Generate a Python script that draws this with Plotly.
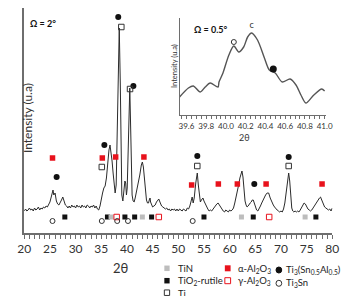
import plotly.graph_objects as go

W, H = 347, 296

# ---------------- main pattern (Omega = 2 deg) ----------------
two_theta = [20.0, 20.25, 20.5, 20.75, 21.0, 21.25, 21.5, 21.75, 22.0, 22.25, 22.5, 22.75,
             23.0, 23.25, 23.5, 23.75, 24.0, 24.25, 24.5, 24.75, 25.0, 25.25, 25.5, 25.6,
             25.75, 26.0, 26.25, 26.5, 26.75, 27.0, 27.25, 27.5, 27.75, 28.0, 28.25, 28.5,
             28.75, 29.0, 29.25, 29.5, 29.75, 30.0, 30.25, 30.5, 30.75, 31.0, 31.25, 31.5,
             31.75, 32.0, 32.25, 32.5, 32.75, 33.0, 33.25, 33.5, 33.75, 34.0, 34.25, 34.5,
             34.75, 35.0, 35.25, 35.5, 35.75, 36.0, 36.25, 36.5, 36.7, 36.9, 37.1, 37.3,
             37.5, 37.7, 37.9, 38.1, 38.3, 38.5, 38.7, 38.85, 39.0, 39.2, 39.4, 39.6,
             39.75, 39.9, 40.05, 40.25, 40.45, 40.55, 40.7, 40.85, 41.0, 41.2, 41.4, 41.6,
             41.8, 42.0, 42.2, 42.5, 42.8, 43.0, 43.2, 43.4, 43.6, 43.8, 44.0, 44.2,
             44.4, 44.5, 44.6, 44.8, 45.0, 45.25, 45.5, 45.75, 46.0, 46.2, 46.5, 46.75,
             47.0, 47.25, 47.5, 47.75, 48.0, 48.25, 48.5, 48.75, 49.0, 49.25, 49.5, 49.75,
             50.0, 50.25, 50.5, 50.75, 51.0, 51.25, 51.5, 51.75, 52.0, 52.25, 52.5, 52.7,
             52.9, 53.1, 53.4, 53.7, 53.9, 54.1, 54.3, 54.5, 54.8, 55.0, 55.25, 55.5,
             55.75, 56.0, 56.25, 56.5, 56.75, 57.0, 57.25, 57.5, 57.75, 58.0, 58.25, 58.5,
             58.75, 59.0, 59.25, 59.5, 59.75, 60.0, 60.25, 60.5, 60.75, 61.0, 61.25, 61.5,
             61.75, 62.0, 62.25, 62.4, 62.6, 62.8, 63.0, 63.2, 63.4, 63.6, 63.8, 64.0,
             64.2, 64.4, 64.6, 64.8, 65.0, 65.25, 65.5, 65.75, 66.0, 66.25, 66.5, 66.75,
             67.0, 67.3, 67.6, 67.9, 68.2, 68.5, 68.75, 69.0, 69.25, 69.5, 69.75, 70.0,
             70.25, 70.5, 70.75, 71.0, 71.25, 71.5, 71.7, 71.9, 72.1, 72.3, 72.5, 72.75,
             73.0, 73.25, 73.5, 73.75, 74.0, 74.25, 74.5, 74.75, 75.0, 75.25, 75.5, 75.75,
             76.0, 76.25, 76.5, 76.75, 77.0, 77.25, 77.5, 77.7, 77.9, 78.1, 78.3, 78.5,
             78.75, 79.0, 79.25, 79.5, 79.75, 80.0]
intensity = [22, 24, 22, 23, 25, 23, 24, 22, 25, 23, 24, 26,
             23, 25, 24, 26, 25, 27, 26, 29, 31, 36, 42, 43,
             38, 40, 32, 29, 28, 30, 33, 36, 31, 28, 27, 25,
             27, 25, 28, 26, 27, 25, 28, 26, 27, 25, 28, 26,
             27, 25, 28, 27, 25, 27, 26, 28, 25, 27, 24, 23,
             27, 36, 40, 45, 47, 55, 70, 83, 88, 82, 72, 60,
             48, 40, 48, 100, 180, 205, 150, 60, 38, 32, 40, 52,
             50, 38, 45, 95, 140, 145, 110, 60, 38, 32, 31, 35,
             40, 45, 48, 58, 68, 71, 66, 52, 40, 33, 30, 30,
             34, 35, 31, 27, 26, 27, 28, 31, 33, 34, 30, 27,
             26, 25, 24, 25, 23, 24, 22, 24, 23, 24, 22, 24,
             22, 24, 23, 22, 24, 23, 22, 25, 24, 27, 32, 36,
             30, 35, 50, 60, 48, 35, 31, 33, 35, 32, 29, 26,
             24, 22, 23, 22, 24, 25, 27, 29, 30, 28, 25, 23,
             22, 21, 23, 22, 21, 23, 22, 23, 25, 30, 35, 42,
             48, 55, 60, 62, 56, 42, 32, 28, 26, 27, 29, 30,
             31, 33, 33, 29, 25, 23, 22, 24, 27, 30, 33, 36,
             38, 40, 40, 35, 31, 28, 26, 24, 23, 22, 21, 22,
             21, 24, 30, 40, 52, 60, 52, 35, 25, 22, 21, 22,
             21, 22, 21, 23, 25, 28, 30, 29, 26, 24, 23, 22,
             23, 25, 28, 30, 31, 33, 35, 36, 33, 30, 28, 26,
             25, 24, 23, 24, 22, 25]

# phase markers (2theta, height)
ti3snal_x = [26.3, 35.6, 38.3, 41.25, 53.7, 64.8, 71.5]
ti3snal_y = [56, 88, 216, 147, 77, 49, 76]
ti_x = [35.1, 38.9, 40.6, 53.7, 71.5]
ti_y = [66, 206, 144, 67, 67]
alpha_x = [25.5, 35.2, 37.8, 43.3, 52.6, 57.8, 61.5, 67.1, 78.0]
alpha_y = [75, 75, 76, 76, 48, 49, 49, 49, 49]
rutile_x = [27.9, 36.2, 39.6, 41.5, 44.8, 55.0, 64.6, 76.8]
rutile_y = [16, 16, 16, 16, 16, 16, 16, 16]
tin_x = [36.9, 43.0, 62.3, 74.7]
tin_y = [16, 16, 16, 16]
gamma_x = [38.0, 46.2, 67.7]
gamma_y = [16, 16, 16]
ti3sn_x = [25.5, 35.1, 38.1, 40.2, 52.8]
ti3sn_y = [12, 12, 12, 12, 12]

# ---------------- inset (Omega = 0.5 deg) ----------------
inset_x = [39.53, 39.62, 39.67, 39.74, 39.79, 39.84, 39.92, 39.93, 39.97, 40.03,
           40.08, 40.13, 40.18, 40.22, 40.26, 40.32, 40.39, 40.44, 40.5, 40.57,
           40.65, 40.71, 40.76, 40.81, 40.89, 40.97, 41.0]
inset_y = [18, 27, 29, 23, 28, 32, 28, 33, 42, 60,
           69, 63, 68, 78, 82, 75, 57, 45, 42, 33,
           36, 30, 20, 12, 20, 26, 24]
inset_ti3snal = ([40.48], [46])
inset_ti3sn = ([40.08], [73])
inset_c = (40.26, 89)
inset_ticks = [39.6, 39.8, 40.0, 40.2, 40.4, 40.6, 40.8, 41.0]

RED = "#e8121c"
LINE = "#2b2b2b"
AX = "#6e6e6e"
FONT = "Lato"

fig = go.Figure()
fig.add_trace(go.Scatter(x=two_theta, y=intensity, mode="lines",
                         line=dict(color=LINE, width=1), hoverinfo="skip"))


def mk(x, y, symbol, color, size, lw=1, lc=None, xa="x", ya="y"):
    fig.add_trace(go.Scatter(x=x, y=y, mode="markers", xaxis=xa, yaxis=ya,
                             marker=dict(symbol=symbol, color=color, size=size,
                                         line=dict(width=lw, color=lc or color))))


mk(alpha_x, alpha_y, "square", RED, 5.5, 0)
mk(ti3snal_x, ti3snal_y, "circle", "#111111", 6, 0)
mk(ti_x, ti_y, "square-open", "#333333", 5.5, 1)
mk(rutile_x, rutile_y, "square", "#111111", 5, 0)
mk(tin_x, tin_y, "square", "#bdbdbd", 5, 0)
mk(gamma_x, gamma_y, "square-open", RED, 5.5, 1)
mk(ti3sn_x, ti3sn_y, "circle-open", "#333333", 5, 1)

# inset
fig.add_trace(go.Scatter(x=inset_x, y=inset_y, mode="lines", xaxis="x2", yaxis="y2",
                         line=dict(color="#555555", width=1.4, shape="spline", smoothing=0.8),
                         hoverinfo="skip"))
mk(*inset_ti3snal, "circle", "#111111", 7, 0, xa="x2", ya="y2")
mk(*inset_ti3sn, "circle-open", "#333333", 5, 1, xa="x2", ya="y2")
fig.add_trace(go.Scatter(x=[inset_c[0]], y=[inset_c[1]], mode="text", text=["c"],
                         xaxis="x2", yaxis="y2", textfont=dict(size=9, color="#333", family=FONT)))


def px(x):
    return x / W


def py(y):
    return 1 - y / H


fig.update_layout(
    width=W, height=H, autosize=False,
    margin=dict(l=0, r=0, t=0, b=0),
    paper_bgcolor="white", plot_bgcolor="rgba(0,0,0,0)",
    showlegend=False,
    font=dict(family=FONT, color="#333333"),
    xaxis=dict(domain=[px(18), px(339)], range=[20, 80], tickvals=list(range(20, 81, 5)),
               showgrid=False, zeroline=False, showline=True, linecolor=AX, linewidth=1.5,
               ticks="outside", ticklen=4, tickcolor=AX, tickwidth=1,
               minor=dict(dtick=1, ticks="outside", ticklen=4, tickcolor=AX, tickwidth=1),
               tickfont=dict(size=12, color="#333333", family=FONT)),
    yaxis=dict(domain=[py(233), py(8)], range=[0, 225], showgrid=False, zeroline=False,
               showline=True, linecolor=AX, linewidth=1.5, showticklabels=False, ticks=""),
    xaxis2=dict(domain=[px(180), px(332)], range=[39.532, 41.01], anchor="y2",
                tickvals=inset_ticks, ticktext=["%.1f" % v for v in inset_ticks], tickangle=0,
                showgrid=False, zeroline=False, showline=True, linecolor=AX, linewidth=1,
                ticks="outside", ticklen=3, tickcolor=AX,
                minor=dict(dtick=0.05, ticks="outside", ticklen=3, tickcolor=AX),
                tickfont=dict(size=8, color="#333333", family=FONT)),
    yaxis2=dict(domain=[py(115), py(18)], range=[0, 97], anchor="x2", showgrid=False,
                zeroline=False, showline=True, linecolor=AX, linewidth=1,
                showticklabels=False, ticks=""),
)

ann = []
ann.append(dict(x=px(108), y=py(268), text="2θ", font=dict(size=13)))
ann.append(dict(x=px(11), y=py(118), text="Intensity (u.a)", textangle=-90, font=dict(size=12)))
ann.append(dict(x=px(22), y=py(23), text="<b>Ω = 2°</b>", xanchor="left", font=dict(size=9, color="#111")))
ann.append(dict(x=px(255), y=py(137), text="2θ", font=dict(size=9)))
ann.append(dict(x=px(174), y=py(66), text="Intensity (u.a)", textangle=-90, font=dict(size=7.5)))
ann.append(dict(x=px(193), y=py(30), text="<b>Ω = 0.5°</b>", xanchor="left", font=dict(size=9, color="#111")))

legend_text = [(176, 268.5, "TiN"), (176, 281, "TiO<sub>2</sub>-rutile"), (176, 293.5, "Ti"),
               (239, 268.5, "α-Al<sub>2</sub>O<sub>3</sub>"), (239, 281, "γ-Al<sub>2</sub>O<sub>3</sub>"),
               (289, 269.5, "Ti<sub>3</sub>(Sn<sub>0.5</sub>Al<sub>0.5</sub>)"), (289, 283, "Ti<sub>3</sub>Sn")]
for (x, y, t) in legend_text:
    ann.append(dict(x=px(x), y=py(y), text=t, xanchor="left", font=dict(size=9.5, color="#222")))
for a in ann:
    a.update(xref="paper", yref="paper", showarrow=False)
    a.setdefault("yanchor", "middle")
fig.update_layout(annotations=ann)

shapes = []


def sq(cx, cy, s, fill, line):
    shapes.append(dict(type="rect", xref="paper", yref="paper",
                       x0=px(cx - s / 2), x1=px(cx + s / 2), y0=py(cy + s / 2), y1=py(cy - s / 2),
                       fillcolor=fill, line=dict(color=line, width=1 if fill == "white" else 0)))


def circ(cx, cy, r, fill, line):
    shapes.append(dict(type="circle", xref="paper", yref="paper",
                       x0=px(cx - r), x1=px(cx + r), y0=py(cy + r), y1=py(cy - r),
                       fillcolor=fill, line=dict(color=line, width=1)))


sq(166.7, 268.3, 5.5, "#bdbdbd", "#bdbdbd")
sq(166.7, 280.7, 5.5, "#111111", "#111111")
sq(166.7, 292.7, 5.5, "white", "#333333")
sq(230, 268.3, 6, RED, RED)
sq(230, 280.7, 6, "white", RED)
circ(283.3, 270, 3, "#111111", "#111111")
circ(283.3, 283.3, 3, "white", "#333333")
fig.update_layout(shapes=shapes)

fig.write_html("out.html")
